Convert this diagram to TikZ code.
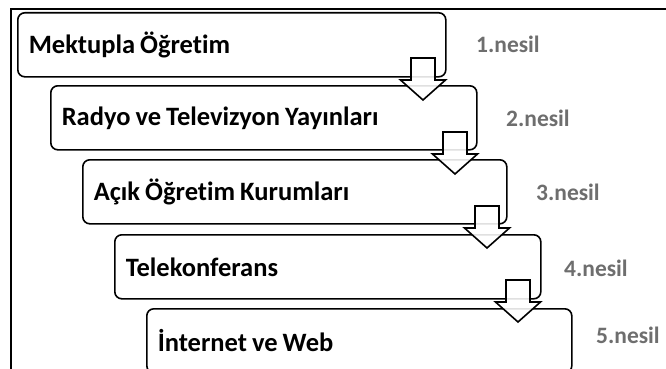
\documentclass[tikz,border=0pt]{standalone}
\usepackage{fontspec}
\setmainfont{Carlito}[Ligatures={NoCommon}]
\usetikzlibrary{calc}
\definecolor{nesilgray}{RGB}{110,110,110}
\newcommand{\tightspacing}{\spaceskip=5pt\relax}
\begin{document}
\begin{tikzpicture}[x=1pt,y=-1pt,
  genbox/.style={draw=black, line width=1.6pt, rounded corners=7pt, anchor=north west,
    minimum height=64pt, inner xsep=11pt, inner ysep=0pt, text width=#1, align=left,
    font=\fontsize{26.5}{30}\selectfont\bfseries, execute at begin node={\tightspacing}},
  blockarrow/.style={draw=black, line width=1.6pt, fill=white, fill opacity=0.88, line join=miter},
  neslabel/.style={text=nesilgray, font=\fontsize{23.5}{27}\selectfont\bfseries, anchor=west, inner sep=0pt}
]
\useasboundingbox (0,0) rectangle (666,369);
\clip (0,0) rectangle (666,369);
\fill[white] (0,0) rectangle (666,369);
% frame
\draw[line width=1.8pt] (11,369) -- (11,9) -- (666,9);
% boxes
\node[genbox=406pt] (b1) at (17,12) {Mektupla Öğretim};
\node[genbox=404pt] (b2) at (50,85) {Radyo ve Televizyon Yayınları};
\node[genbox=402pt] (b3) at (82,159) {Açık Öğretim Kurumları};
\node[genbox=404pt] (b4) at (114,234) {Telekonferans};
\node[genbox=403pt] (b5) at (146,308) {İnternet ve Web};
% arrow tips
\coordinate (a1) at (423,100);
\coordinate (a2) at (455,174);
\coordinate (a3) at (487,248);
\coordinate (a4) at (518,322);
\foreach \t in {a1,a2,a3,a4}{
  \draw[blockarrow] ($(\t)+(-12,-42)$) -- ++(24,0) -- ++(0,22) -- ++(10.5,0) -- (\t)
    -- ++(-22.5,-20) -- ++(10.5,0) -- cycle;
}
% labels
\node[neslabel] (n1) at (476,44) {1.nesil};
\node[neslabel] (n2) at (506,118) {2.nesil};
\node[neslabel] (n3) at (536,192) {3.nesil};
\node[neslabel] (n4) at (564,268) {4.nesil};
\node[neslabel] (n5) at (596,335) {5.nesil};
\end{tikzpicture}
\end{document}
